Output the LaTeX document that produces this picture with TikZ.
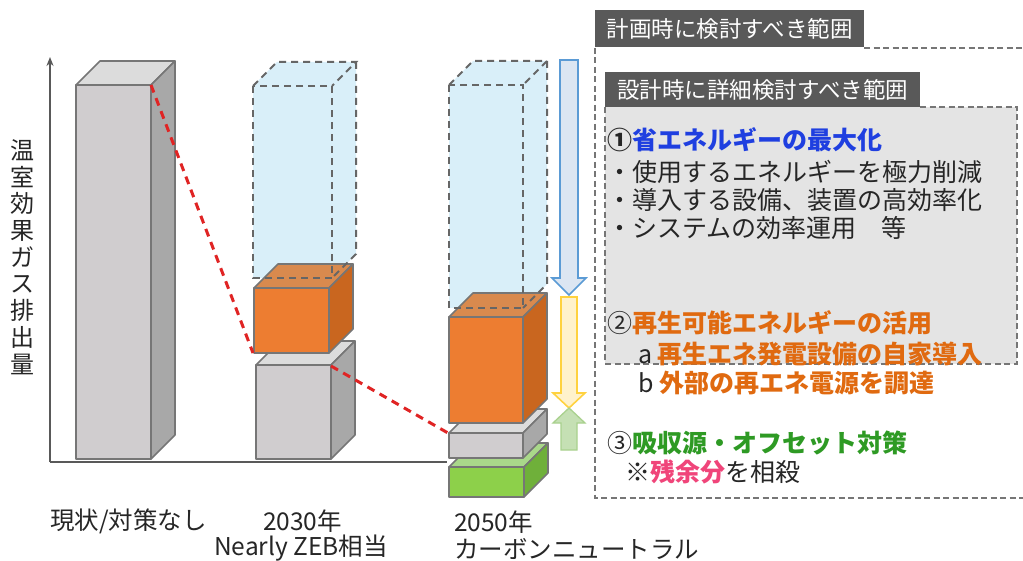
\documentclass[tikz,border=0pt]{standalone}
\usepackage{fontspec}
\setmainfont{Noto Sans CJK JP}
\usetikzlibrary{arrows.meta}
\definecolor{edgegray}{HTML}{767676}
\definecolor{grayfront}{HTML}{D0CDCF}
\definecolor{graytop}{HTML}{DCDCDC}
\definecolor{grayside}{HTML}{A8A8A8}
\definecolor{orfront}{HTML}{ED7D31}
\definecolor{ortop}{HTML}{D98A4E}
\definecolor{orside}{HTML}{C9661F}
\definecolor{grfront}{HTML}{8DD04A}
\definecolor{grtop}{HTML}{A9D88A}
\definecolor{grside}{HTML}{6FB03A}
\definecolor{ghostfill}{HTML}{D5EEF9}
\definecolor{ghostline}{HTML}{666666}
\definecolor{redline}{HTML}{E02424}
\definecolor{hdrfill}{HTML}{595959}
\definecolor{innerfill}{HTML}{E4E4E4}
\definecolor{txtblack}{HTML}{262626}
\definecolor{txtblue}{HTML}{1F3FE0}
\definecolor{txtorange}{HTML}{E06A10}
\definecolor{txtgreen}{HTML}{2E9A24}
\definecolor{txtpink}{HTML}{F0457A}
\definecolor{arrblue}{HTML}{5B9BD5}
\definecolor{arrbluefill}{HTML}{DCE6F2}
\definecolor{arryel}{HTML}{FFD23F}
\definecolor{arryelfill}{HTML}{FFF2CC}
\definecolor{arrgr}{HTML}{A9D18E}
\definecolor{arrgrfill}{HTML}{C5E0B4}
\tikzset{
  cubeedge/.style={draw=edgegray, line width=1.6pt, line join=round},
  ghostedge/.style={draw=ghostline, line width=2pt, dash pattern=on 7pt off 5pt},
  reddash/.style={draw=redline, line width=3pt, dash pattern=on 8pt off 6pt},
  boxdash/.style={draw=edgegray, line width=1.8pt, dash pattern=on 6pt off 3.5pt},
  hdr/.style={fill=hdrfill, text=white, font=\fontsize{22.5}{26}\selectfont, inner sep=0pt},
  body/.style={anchor=west, inner sep=0pt, text=txtblack, font=\fontsize{25}{28}\selectfont},
  lbl/.style={inner sep=0pt, text=txtblack, font=\fontsize{24.5}{27}\selectfont},
}
\newcommand\mycube[7]{%
  \filldraw[cubeedge, fill=#6] (#1,#3) -- (#1+24,#3-24) -- (#2+24,#3-24) -- (#2,#3) -- cycle;
  \filldraw[cubeedge, fill=#7] (#2,#3) -- (#2+24,#3-24) -- (#2+24,#4-24) -- (#2,#4) -- cycle;
  \filldraw[cubeedge, fill=#5] (#1,#3) rectangle (#2,#4);
}
\newcommand\ghostfill[4]{%
  \fill[ghostfill, opacity=0.9] (#1,#3) -- (#1+24,#3-24) -- (#2+24,#3-24) -- (#2+24,#4-24) -- (#2,#4) -- (#1,#4) -- cycle;
}
\newcommand\ghostlines[4]{%
  \draw[ghostedge] (#1,#3) rectangle (#2,#4);
  \draw[ghostedge] (#1,#3) -- (#1+24,#3-24) -- (#2+24,#3-24) -- (#2,#3);
  \draw[ghostedge] (#2+24,#3-24) -- (#2+24,#4-24) -- (#2,#4);
}
\begin{document}
\begin{tikzpicture}[x=1pt, y=-1pt]
\useasboundingbox (0,0) rectangle (1023,561);
\fill[white] (0,0) rectangle (1023,561);

% axes
\coordinate (origin) at (50,462);
\coordinate (ytop) at (50,57);
\coordinate (xend) at (447,462);
\draw[draw=hdrfill, line width=1.8pt, -{Stealth[length=9pt,width=7pt]}] (origin) -- (ytop);
\draw[draw=hdrfill, line width=1.8pt] (origin) -- (xend);

% y label
\node[inner sep=0pt, text=txtblack, align=center, font=\fontsize{24}{26.7}\selectfont] (ylab) at (22,257)
  {温\\室\\効\\果\\ガ\\ス\\排\\出\\量};

% bar 1
\mycube{76}{151}{85}{459}{grayfront}{graytop}{grayside}

% 2030
\ghostfill{253}{332}{86}{278}
\mycube{256}{331}{365}{459}{grayfront}{graytop}{grayside}
\mycube{254}{329}{288}{353}{orfront}{ortop}{orside}
\ghostlines{253}{332}{86}{278}

% 2050
\ghostfill{449}{523}{85}{308}
\mycube{449}{524}{467}{497}{grfront}{grtop}{grside}
\mycube{449}{523}{433}{458}{grayfront}{graytop}{grayside}
\mycube{449}{523}{317}{423}{orfront}{ortop}{orside}
\ghostlines{449}{523}{85}{308}

% red dashed lines
\coordinate (b1tr) at (151,85);
\coordinate (o30bl) at (253,353);
\coordinate (g30tr) at (331,366);
\coordinate (g50tl) at (448,433);
\draw[reddash] (b1tr) -- (o30bl);
\draw[reddash] (g30tr) -- (g50tl);

% arrows
\draw[draw=arrblue, fill=arrbluefill, line width=1.6pt, line join=miter]
  (560,60) -- (578,60) -- (578,278) -- (586,278) -- (569,295) -- (552,278) -- (560,278) -- cycle;
\draw[draw=arryel, fill=arryelfill, line width=1.6pt, line join=miter]
  (561,297) -- (577,297) -- (577,393) -- (585,393) -- (569,408) -- (553,393) -- (561,393) -- cycle;
\draw[draw=arrgr, fill=arrgrfill, line width=1.3pt, line join=miter]
  (561,450) -- (577,450) -- (577,423) -- (585,423) -- (569,408) -- (553,423) -- (561,423) -- cycle;

% right panel
\draw[boxdash] (595,48) -- (595,498) -- (1030,498);
\draw[boxdash] (864,48) -- (1030,48);
\node[hdr, minimum width=269pt, minimum height=37pt, anchor=north west] (h1) at (595,10) {計画時に検討すべき範囲};
\fill[innerfill] (605,107) rectangle (1017,364);
\draw[boxdash] (920,107) -- (1017,107) -- (1017,364) -- (605,364) -- (605,107);
\node[hdr, minimum width=315pt, minimum height=35pt, anchor=north west] (h2) at (605,72) {設計時に詳細検討すべき範囲};

\node[body] (t1) at (607,140) {\textbf{①}\textcolor{txtblue}{\textbf{省エネルギーの最大化}}};
\node[body] (t2) at (607,172) {・使用するエネルギーを極力削減};
\node[body] (t3) at (607,200) {・導入する設備、装置の高効率化};
\node[body] (t4) at (607,228) {・システムの効率運用　等};
\node[body] (t5) at (607,323) {②\textcolor{txtorange}{\textbf{再生可能エネルギーの活用}}};
\node[body] (t6) at (638,354) {a \textcolor{txtorange}{\textbf{再生エネ発電設備の自家導入}}};
\node[body] (t7) at (638,383) {b \textcolor{txtorange}{\textbf{外部の再エネ電源を調達}}};
\node[body] (t8) at (607,443) {③\textcolor{txtgreen}{\textbf{吸収源・オフセット対策}}};
\node[body] (t9) at (625,472) {※\textcolor{txtpink}{\textbf{残余分}}を相殺};

% bottom labels
\node[lbl, anchor=west] (l1) at (50,521) {現状/対策なし};
\node[lbl, anchor=west] (l2) at (263,521) {2030年};
\node[lbl, anchor=west] (l3) at (214,548) {Nearly ZEB相当};
\node[lbl, anchor=west] (l4) at (454,522) {2050年};
\node[lbl, anchor=west] (l5) at (454,549) {カーボンニュートラル};
\end{tikzpicture}
\end{document}
